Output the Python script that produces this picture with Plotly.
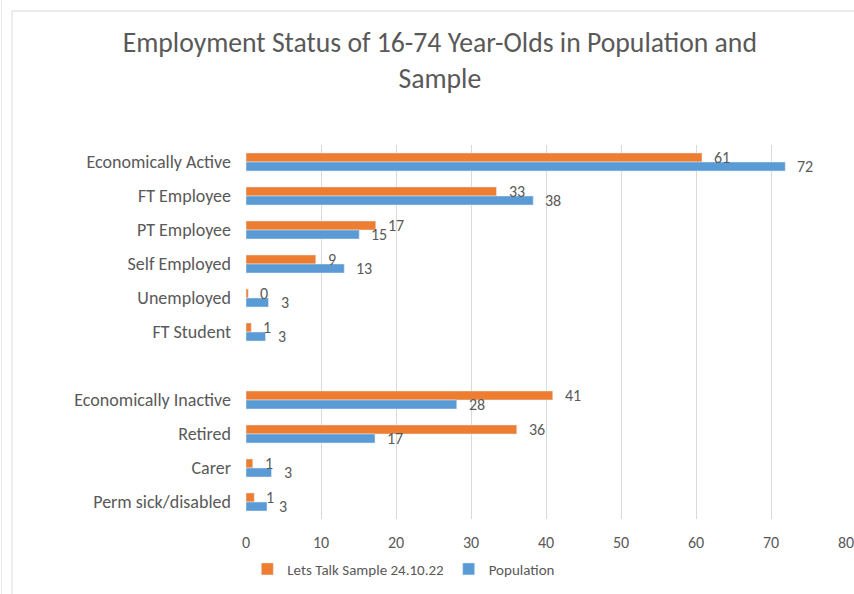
import plotly.graph_objects as go

categories = ["Economically Active", "FT Employee", "PT Employee", "Self Employed",
              "Unemployed", "FT Student", " ", "Economically Inactive", "Retired",
              "Carer", "Perm sick/disabled"]
sample = [60.8, 33.4, 17.3, 9.3, 0.3, 0.7, None, 40.9, 36.1, 0.9, 1.1]
population = [71.9, 38.3, 15.1, 13.1, 3.0, 2.6, None, 28.1, 17.2, 3.4, 2.8]
x_ticks = [0, 10, 20, 30, 40, 50, 60, 70, 80]

FONT = "Carlito, Lato, sans-serif"
GREY = "#595959"
ORANGE = "#ED7D31"
BLUE = "#5B9BD5"

fig = go.Figure()
fig.add_trace(go.Bar(y=categories, x=sample, orientation="h", name="Lets Talk Sample 24.10.22",
                     marker=dict(color=ORANGE)))
fig.add_trace(go.Bar(y=categories, x=population, orientation="h", name="Population",
                     marker=dict(color=BLUE)))

annotations = []
for cat, s, p in zip(categories, sample, population):
    if s is not None:
        annotations.append(dict(x=s, y=cat, text=f"{s:.0f}", showarrow=False, xanchor="left",
                                xshift=10, yshift=4.5, font=dict(family=FONT, size=16, color=GREY)))
    if p is not None:
        annotations.append(dict(x=p, y=cat, text=f"{p:.0f}", showarrow=False, xanchor="left",
                                xshift=10, yshift=-4.5, font=dict(family=FONT, size=16, color=GREY)))

frame = dict(color="#D9D9D9", width=1)
fig.update_layout(
    width=854, height=594,
    margin=dict(l=246, r=8, t=145, b=75),
    paper_bgcolor="white", plot_bgcolor="white",
    barmode="group", bargap=0.47, bargroupgap=0,
    title=dict(text="Employment Status of 16-74 Year-Olds in Population and<br>Sample",
               x=0.515, xanchor="center", y=0.912, yanchor="middle",
               font=dict(family=FONT, size=27.7, color=GREY)),
    font=dict(family=FONT, size=16, color=GREY),
    xaxis=dict(range=[0, 80], tickvals=x_ticks, showgrid=True, gridcolor="#D9D9D9",
               zeroline=False, showline=False, ticks="", automargin=False,
               ticklabeloverflow="allow",
               tickfont=dict(size=16, color=GREY), ticklabelstandoff=12),
    yaxis=dict(autorange="reversed", showgrid=False, ticks="", showline=False,
               automargin=False,
               tickfont=dict(size=18, color=GREY), ticklabelstandoff=14),
    legend=dict(orientation="h", x=0.263, xanchor="center", y=-0.09, yanchor="top",
                font=dict(family=FONT, size=15, color=GREY), itemwidth=30,
                traceorder="normal"),
    annotations=annotations,
    shapes=[
        dict(type="line", xref="paper", yref="paper", x0=-234/600, x1=608/600,
             y0=1 + 134/374, y1=1 + 134/374, line=frame, layer="below"),
        dict(type="line", xref="paper", yref="paper", x0=-234/600, x1=-234/600,
             y0=1 + 134/374, y1=-449/374 + 1 - 1, line=frame, layer="below"),
        dict(type="line", xref="paper", yref="paper", x0=-244.5/600, x1=-244.5/600,
             y0=1 + 145/374, y1=-0.21, line=dict(color="#E6E6E6", width=1), layer="below"),
    ],
)

fig.write_html("out.html")
